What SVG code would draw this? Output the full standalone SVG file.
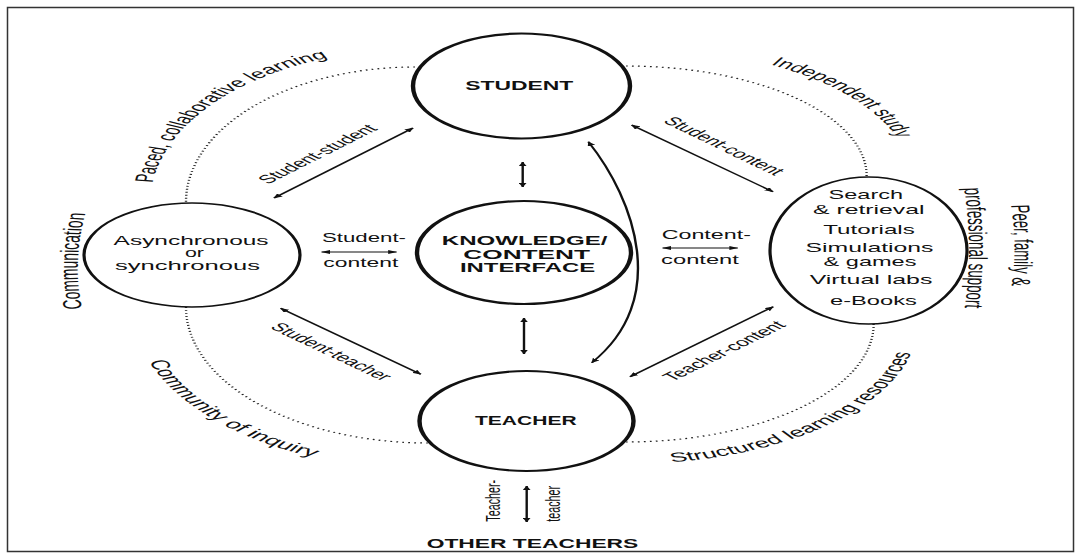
<svg xmlns="http://www.w3.org/2000/svg" width="1082" height="559" viewBox="0 0 1082 559">
<style>
.node{fill:none;stroke:#111;stroke-width:2.2}
.thin{stroke-width:1.6}
.t{font-family:"Liberation Sans",Arial,sans-serif;fill:#111}
.b{font-weight:bold}
.conn{fill:none;stroke:#111;stroke-width:1.2}
.dot{fill:none;stroke:#222;stroke-width:1.2;stroke-dasharray:0.9 2.1}
</style>
<defs>
<marker id="ah" viewBox="0 0 4.5 4" refX="4.2" refY="2" markerWidth="4.5" markerHeight="4" markerUnits="userSpaceOnUse" orient="auto-start-reverse"><path d="M0,0 L4.5,2 L0,4 z" fill="#111"/></marker>
<path id="pPaced" d="M76.3,182.7 A132.5,153 0 0 1 167.6,56.5"/>
<path id="pIndep" d="M385.3,64.6 A140.3,130 0 0 1 449.2,140"/>
<path id="pComm" d="M41,309 Q36,260 43,211"/>
<path id="pCommInq" d="M74.5,361.4 A148,163 0 0 0 158.6,458.1"/>
<path id="pStruct" d="M335.8,462.3 A145.8,140 0 0 0 456.1,350.7"/>
<path id="pPeer" d="M505.5,205 Q509,247 505.5,290"/>
<path id="pProf" d="M482,188 Q487,250 482,312"/>
</defs>
<rect width="1082" height="559" fill="#fff"/>
<rect x="7.5" y="7.5" width="1066" height="544" fill="none" stroke="#333" stroke-width="1.5"/>
<g transform="scale(2,1)">
<g id="ring">
<path class="dot" d="M207.5,67 A114.5,135 0 0 0 93,202"/>
<path class="dot" d="M313,66 A120.3,110 0 0 1 433.3,176"/>
<path class="dot" d="M93,307 A121,136 0 0 0 214,443"/>
<path class="dot" d="M436.8,324 A123.8,118 0 0 1 313,442"/>
<text class="t" font-size="13"><textPath href="#pPaced" textLength="160" lengthAdjust="spacingAndGlyphs">Paced, collaborative learning</textPath></text>
<text class="t" font-size="13"><textPath href="#pIndep" textLength="99" lengthAdjust="spacingAndGlyphs">Independent study</textPath></text>
<text class="t" font-size="13"><textPath href="#pComm" textLength="96" lengthAdjust="spacingAndGlyphs">Communication</textPath></text>
<text class="t" font-size="13"><textPath href="#pCommInq" textLength="130" lengthAdjust="spacingAndGlyphs">Community of inquiry</textPath></text>
<text class="t" font-size="13"><textPath href="#pStruct" textLength="172" lengthAdjust="spacingAndGlyphs">Structured learning resources</textPath></text>
<text class="t" font-size="13"><textPath href="#pPeer" textLength="81" lengthAdjust="spacingAndGlyphs">Peer, family &amp;</textPath></text>
<text class="t" font-size="13"><textPath href="#pProf" textLength="120" lengthAdjust="spacingAndGlyphs">professional support</textPath></text>
</g>
<g id="connectors">
<line class="conn" x1="206.5" y1="128" x2="137" y2="198" marker-start="url(#ah)" marker-end="url(#ah)"/>
<line class="conn" x1="315.8" y1="125" x2="386.5" y2="191.8" marker-start="url(#ah)" marker-end="url(#ah)"/>
<line class="conn" x1="140.3" y1="308.3" x2="210.4" y2="374.3" marker-start="url(#ah)" marker-end="url(#ah)"/>
<line class="conn" x1="386.6" y1="306.7" x2="315" y2="376.7" marker-start="url(#ah)" marker-end="url(#ah)"/>
<line class="conn" x1="261.35" y1="162" x2="261.35" y2="187" marker-start="url(#ah)" marker-end="url(#ah)"/>
<line class="conn" x1="262" y1="318" x2="262" y2="354" marker-start="url(#ah)" marker-end="url(#ah)"/>
<line class="conn" x1="263.35" y1="486" x2="263.35" y2="522" marker-start="url(#ah)" marker-end="url(#ah)"/>
<line class="conn" x1="160.8" y1="252" x2="198.3" y2="252" marker-start="url(#ah)" marker-end="url(#ah)"/>
<line class="conn" x1="331.3" y1="248" x2="368.9" y2="248" marker-start="url(#ah)" marker-end="url(#ah)"/>
<path class="conn" d="M294.2,141.7 C317.5,200 335,300 295.9,362.7" marker-start="url(#ah)" marker-end="url(#ah)"/>
<text class="t" font-size="12" text-anchor="middle" transform="translate(158.75,154) rotate(-45)" y="4" textLength="78" lengthAdjust="spacingAndGlyphs">Student-student</text>
<text class="t" font-size="12" text-anchor="middle" transform="translate(362,146) rotate(44)" y="4" textLength="78" lengthAdjust="spacingAndGlyphs">Student-content</text>
<text class="t" font-size="12" text-anchor="middle" transform="translate(165.7,351.7) rotate(43.3)" y="4" textLength="78" lengthAdjust="spacingAndGlyphs">Student-teacher</text>
<text class="t" font-size="12" text-anchor="middle" transform="translate(362,351) rotate(-44.4)" y="4" textLength="80" lengthAdjust="spacingAndGlyphs">Teacher-content</text>
<text class="t" font-size="12.5" text-anchor="middle" x="182" y="242.5" textLength="42" lengthAdjust="spacingAndGlyphs">Student-</text>
<text class="t" font-size="12.5" text-anchor="middle" x="180.4" y="267.5" textLength="37.5" lengthAdjust="spacingAndGlyphs">content</text>
<text class="t" font-size="12.5" text-anchor="middle" x="353.15" y="239.5" textLength="44.6" lengthAdjust="spacingAndGlyphs">Content-</text>
<text class="t" font-size="12.5" text-anchor="middle" x="350" y="264" textLength="38.9" lengthAdjust="spacingAndGlyphs">content</text>
<text class="t" font-size="10" text-anchor="middle" transform="translate(250,500.8) rotate(-90)" textLength="41.7" lengthAdjust="spacingAndGlyphs">Teacher-</text>
<text class="t" font-size="10" text-anchor="middle" transform="translate(280,503.8) rotate(-90)" textLength="35.7" lengthAdjust="spacingAndGlyphs">teacher</text>
</g>
<g id="student">
<ellipse class="node" cx="260.75" cy="86" rx="54.25" ry="52.5"/>
<text class="t b" font-size="13.5" text-anchor="middle" x="259.6" y="90.5" textLength="54" lengthAdjust="spacingAndGlyphs">STUDENT</text>
</g>
<g id="knowledge">
<ellipse class="node" cx="262" cy="252.5" rx="53.5" ry="51.5"/>
<text class="t b" font-size="12.5" text-anchor="middle" x="262.3" y="245" textLength="82.8" lengthAdjust="spacingAndGlyphs">KNOWLEDGE/</text>
<text class="t b" font-size="12.5" text-anchor="middle" x="263.35" y="259" textLength="63.4" lengthAdjust="spacingAndGlyphs">CONTENT</text>
<text class="t b" font-size="12.5" text-anchor="middle" x="263.8" y="272.5" textLength="67.6" lengthAdjust="spacingAndGlyphs">INTERFACE</text>
</g>
<g id="teacher">
<ellipse class="node" cx="263.25" cy="421" rx="53.5" ry="50"/>
<text class="t b" font-size="13.5" text-anchor="middle" x="262.9" y="425.5" textLength="50.8" lengthAdjust="spacingAndGlyphs">TEACHER</text>
</g>
<g id="async">
<ellipse class="node thin" cx="96" cy="255" rx="54" ry="52"/>
<text class="t" font-size="12.5" text-anchor="middle" x="95.55" y="245" textLength="77.5" lengthAdjust="spacingAndGlyphs">Asynchronous</text>
<text class="t" font-size="12.5" text-anchor="middle" x="97.2" y="257.5" textLength="9.5" lengthAdjust="spacingAndGlyphs">or</text>
<text class="t" font-size="12.5" text-anchor="middle" x="93.75" y="270" textLength="72.5" lengthAdjust="spacingAndGlyphs">synchronous</text>
</g>
<g id="content">
<ellipse class="node thin" cx="434.25" cy="250.5" rx="49.25" ry="73.5"/>
<text class="t" font-size="13.5" text-anchor="middle" x="432.9" y="199" textLength="37.2" lengthAdjust="spacingAndGlyphs">Search</text>
<text class="t" font-size="13.5" text-anchor="middle" x="434.4" y="214" textLength="55.7" lengthAdjust="spacingAndGlyphs">&amp; retrieval</text>
<text class="t" font-size="13.5" text-anchor="middle" x="434.5" y="234" textLength="45.8" lengthAdjust="spacingAndGlyphs">Tutorials</text>
<text class="t" font-size="13.5" text-anchor="middle" x="434.75" y="252.5" textLength="64" lengthAdjust="spacingAndGlyphs">Simulations</text>
<text class="t" font-size="13.5" text-anchor="middle" x="435" y="266.5" textLength="46.4" lengthAdjust="spacingAndGlyphs">&amp; games</text>
<text class="t" font-size="13.5" text-anchor="middle" x="435.5" y="284" textLength="61.35" lengthAdjust="spacingAndGlyphs">Virtual labs</text>
<text class="t" font-size="13.5" text-anchor="middle" x="436.7" y="305" textLength="43.4" lengthAdjust="spacingAndGlyphs">e-Books</text>
</g>
<g id="other-teachers">
<text class="t b" font-size="13.5" text-anchor="middle" x="266.25" y="548" textLength="105.8" lengthAdjust="spacingAndGlyphs">OTHER TEACHERS</text>
</g>
</g>
</svg>
